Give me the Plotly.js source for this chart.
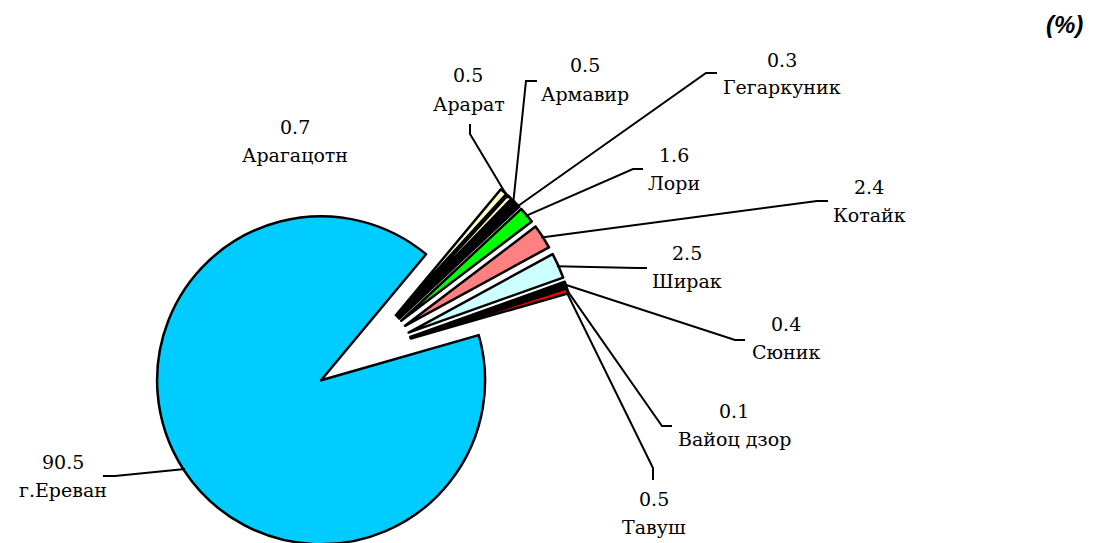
<!DOCTYPE html>
<html><head><meta charset="utf-8">
<script src="https://cdn.plot.ly/plotly-3.0.1.min.js"></script>
<style>html,body{margin:0;padding:0;overflow:hidden;background:#fff}</style>
</head><body><div id="chart" style="width:1095px;height:700px"></div>
<script>
// ---- data ----
const regions = ["г.Ереван","Арагацотн","Арарат","Армавир","Гегаркуник","Лори","Котайк","Ширак","Сюник","Вайоц дзор","Тавуш"];
const shares = [90.5,0.7,0.5,0.5,0.3,1.6,2.4,2.5,0.4,0.1,0.5];
const valueLabels = ["90.5","0.7","0.5","0.5","0.3","1.6","2.4","2.5","0.4","0.1","0.5"];
const unitLabel = "(%)";

// ---- style / layout ----
const sliceColors = ["#00CCFF","#FFFFCC","#FFFFCC","#000000","#000000","#00FF00","#FF8080","#CCFFFF","#000000","#000000","#FF0000"];
const W = 1095, H = 700;
const CX = 363, CY = 353, R = 164, PULL = 0.305, ROT = 74;
const pulls = shares.map(() => PULL);
const half = R * (1 + PULL);

// label placement (pixels): value label, name label, leader elbow
const labelPos = [
  {v:[63,462],  n:[63,490],  e:[[103,476],[115,476]]},
  {v:[295,127], n:[295,155], e:null},
  {v:[468,75],  n:[469,104], e:[[470,124],[470,134]]},
  {v:[585,65],  n:[585,94],  e:[[537,81],[526,81]]},
  {v:[782,60],  n:[782,87],  e:[[717,73],[706,73]]},
  {v:[674,155], n:[674,183], e:[[643,169],[633,169]]},
  {v:[869,187], n:[869,215], e:[[828,201],[817,201]]},
  {v:[687,253], n:[687,281], e:[[647,268],[637,268]]},
  {v:[786,324], n:[786,352], e:[[745,340],[735,340]]},
  {v:[734,411], n:[734,439], e:[[672,426],[662,426]]},
  {v:[654,499], n:[654,527], e:[[653,480],[653,468]]}
];

const px = x => x / W, py = y => 1 - y / H;

// leader line anchor on each slice edge (from data)
const total = shares.reduce((a, b) => a + b, 0);
let cum = 0;
const anchors = shares.map((v, i) => {
  const mid = ROT + 360 * (cum + v / 2) / total;
  cum += v;
  const a = mid * Math.PI / 180;
  const d = pulls[i] * R + R * 0.99;
  return [CX + d * Math.sin(a), CY - d * Math.cos(a)];
});

const labelFont = {family: "DejaVu Serif", size: 19, color: "#000"};
const annotations = [];
const shapes = [];
labelPos.forEach((p, i) => {
  annotations.push({xref:'paper', yref:'paper', x:px(p.v[0]), y:py(p.v[1]), text:valueLabels[i], showarrow:false, xanchor:'center', yanchor:'middle', font:labelFont});
  annotations.push({xref:'paper', yref:'paper', x:px(p.n[0]), y:py(p.n[1]), text:regions[i], showarrow:false, xanchor:'center', yanchor:'middle', font:labelFont});
  if (p.e) {
    const pts = [p.e[0], p.e[1], anchors[i]];
    const path = 'M ' + pts.map(q => px(q[0]) + ',' + py(q[1])).join(' L ');
    shapes.push({type:'path', xref:'paper', yref:'paper', path:path, line:{color:'#000', width:2}});
  }
});
annotations.push({xref:'paper', yref:'paper', x:px(1064), y:py(25), text:'<b><i>' + unitLabel + '</i></b>', showarrow:false, xanchor:'center', yanchor:'middle', font:{family:"Liberation Sans", size:24, color:'#000'}});

const trace = {
  type: 'pie',
  labels: regions,
  values: shares,
  sort: false,
  direction: 'clockwise',
  rotation: ROT,
  pull: pulls,
  textinfo: 'none',
  hoverinfo: 'label+value',
  marker: {colors: sliceColors, line: {color: '#000', width: 2.5}},
  domain: {x: [(CX - half) / W, (CX + half) / W], y: [1 - (CY + half) / H, 1 - (CY - half) / H]},
  showlegend: false
};

Plotly.newPlot('chart', [trace], {
  width: W, height: H,
  margin: {l:0, r:0, t:0, b:0},
  paper_bgcolor: '#fff',
  showlegend: false,
  annotations: annotations,
  shapes: shapes
}, {displayModeBar: false, staticPlot: true});
</script></body></html>
